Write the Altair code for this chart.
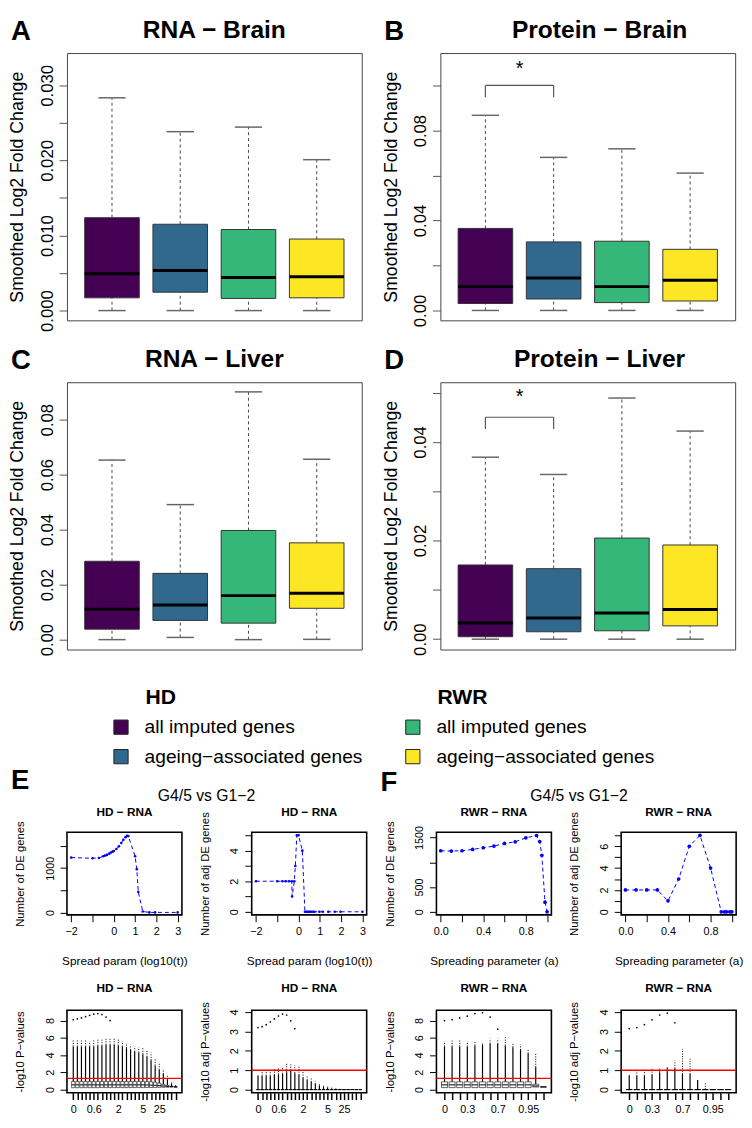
import json
import altair as alt
import pandas as pd

FONT = "Liberation Sans"
COLORS = ["#440154", "#31688E", "#35B779", "#FDE725"]
POS = [1, 2, 3, 4]
YTITLE = "Smoothed Log2 Fold Change"

# ---------------- Panels A-D : box statistics ----------------
A_LOW = [0.0, 0.0, 0.0, 0.0]
A_Q1 = [0.0017, 0.00245, 0.00162, 0.0017]
A_MED = [0.0049, 0.00533, 0.00442, 0.0045]
A_Q3 = [0.01237, 0.0115, 0.0108, 0.00953]
A_HIGH = [0.02834, 0.02383, 0.02444, 0.0201]
A_TICKS = [0, 0.005, 0.01, 0.015, 0.02, 0.025, 0.03]
A_LABELS = ["0.000", "", "0.010", "", "0.020", "", "0.030"]

B_LOW = [0.0, 0.0, 0.0, 0.0]
B_Q1 = [0.0031, 0.0051, 0.0035, 0.0042]
B_MED = [0.0106, 0.0144, 0.0106, 0.0134]
B_Q3 = [0.0365, 0.0305, 0.0308, 0.0272]
B_HIGH = [0.0868, 0.0681, 0.0719, 0.0611]
B_TICKS = [0, 0.02, 0.04, 0.06, 0.08, 0.1]
B_LABELS = ["0.00", "", "0.04", "", "0.08", ""]
B_SIG = [0.0948, 0.1001, 0.1075]   # bracket foot, bracket top, star

C_LOW = [0.0, 0.0008, 0.0, 0.0001]
C_Q1 = [0.0038, 0.0070, 0.0060, 0.0114]
C_MED = [0.0111, 0.0126, 0.0160, 0.0169]
C_Q3 = [0.0285, 0.0241, 0.0397, 0.0352]
C_HIGH = [0.0653, 0.0491, 0.0901, 0.0656]
C_TICKS = [0, 0.02, 0.04, 0.06, 0.08]
C_LABELS = ["0.00", "0.02", "0.04", "0.06", "0.08"]

D_LOW = [0.0, 0.0, 0.0, 0.0]
D_Q1 = [0.0005, 0.0015, 0.0017, 0.0027]
D_MED = [0.0033, 0.0043, 0.0053, 0.0060]
D_Q3 = [0.01505, 0.0143, 0.0205, 0.0191]
D_HIGH = [0.0369, 0.0334, 0.0489, 0.0422]
D_TICKS = [0, 0.01, 0.02, 0.03, 0.04, 0.05]
D_LABELS = ["0.00", "", "0.02", "", "0.04", ""]
D_SIG = [0.0426, 0.0450, 0.0490]

# ---------------- Legend ----------------
LEG_GROUPS = ["HD", "HD", "RWR", "RWR"]
LEG_ROWS = [1, 2, 1, 2]
LEG_LABELS = ["all imputed genes", "ageing\u2212associated genes",
              "all imputed genes", "ageing\u2212associated genes"]
LEG_TITLES = ["HD", "RWR"]

# ---------------- Panel E/F line plots ----------------
E1_X = [-2, -1, -0.7, -0.5, -0.41, -0.32, -0.21, -0.14, -0.06, 0, 0.12, 0.24, 0.35,
        0.45, 0.55, 0.62, 0.68, 1.0, 1.08, 1.15, 1.36, 1.67, 1.94, 3.0]
E1_Y = [1239, 1224, 1231, 1269, 1284, 1299, 1328, 1351, 1373, 1388, 1433, 1493, 1567,
        1642, 1701, 1731, 1724, 1269, 978, 463, 22, 0, 0, 0]
E2_X = [-2, -1, -0.76, -0.6, -0.45, -0.32, -0.3, -0.2, -0.15, -0.08, 0, 0.18, 0.3,
        0.36, 0.42, 0.48, 0.54, 0.6, 0.68, 0.75, 0.98, 1.14, 1.4, 1.7, 1.97, 3.0]
E2_Y = [2, 2, 2, 2, 2, 2, 1, 2, 3, 5, 5, 4, 0, 0, 0, 0, 0, 0, 0, 0, 0, 0, 0, 0, 0, 0]
F1_X = [0, 0.1, 0.2, 0.3, 0.4, 0.5, 0.6, 0.7, 0.8, 0.9, 0.93, 0.95, 0.98, 1.0]
F1_Y = [1233, 1227, 1233, 1260, 1293, 1327, 1380, 1413, 1493, 1540, 1419, 1142, 196, 0]
F2_X = [0, 0.1, 0.2, 0.3, 0.4, 0.5, 0.6, 0.7, 0.8, 0.9, 0.93, 0.95, 0.98, 1.0]
F2_Y = [2, 2, 2, 2, 1, 3, 6, 7, 4, 0, 0, 0, 0, 0]

E_XTICKS = [-2, -1, 0, 1, 2, 3]
E_XLABELS = ["\u22122", "", "0", "1", "2", "3"]
E1_YTICKS = [0, 500, 1000, 1500]
E1_YLABELS = ["0", "", "1000", ""]
E2_YTICKS = [0, 1, 2, 3, 4, 5]
E2_YLABELS = ["0", "", "2", "", "4", ""]
F_XTICKS = [0, 0.2, 0.4, 0.6, 0.8, 1.0]
F_XLABELS = ["0.0", "", "0.4", "", "0.8", ""]
F1_YTICKS = [0, 500, 1000, 1500]
F1_YLABELS = ["0", "500", "", "1500"]
F2_YTICKS = [0, 1, 2, 3, 4, 5, 6, 7]
F2_YLABELS = ["0", "", "2", "", "4", "", "6", ""]

# ---------------- Panel E/F p-value distributions ----------------
HD_CATS = ["0", "0.1", "0.2", "0.3", "0.4", "0.6", "0.7", "0.8", "0.9", "1", "1.5", "2", "2.5",
           "3", "3.5", "4", "4.5", "5", "10", "15", "20", "25", "50", "100", "500", "1000"]
HD_SHOWN = [0, 5, 11, 17, 21]
HD_P_Q1 = [0.22, 0.22, 0.22, 0.22, 0.22, 0.22, 0.22, 0.23, 0.23, 0.23, 0.23, 0.23, 0.23,
           0.23, 0.23, 0.23, 0.23, 0.23, 0.24, 0.24, 0.25, 0.26, 0.27, 0.28, 0.29, 0.30]
HD_P_MED = [0.55, 0.55, 0.55, 0.55, 0.55, 0.55, 0.55, 0.55, 0.55, 0.55, 0.55, 0.55, 0.55,
            0.55, 0.55, 0.55, 0.55, 0.55, 0.54, 0.52, 0.50, 0.46, 0.42, 0.38, 0.34, 0.31]
HD_P_Q3 = [0.95, 0.95, 0.95, 0.95, 0.95, 0.95, 0.95, 0.95, 0.95, 0.95, 0.95, 0.95, 0.95,
           0.95, 0.95, 0.95, 0.95, 0.95, 0.93, 0.90, 0.85, 0.75, 0.62, 0.50, 0.40, 0.32]
HD_P_SOLID = [5.0, 5.0, 5.0, 5.0, 5.0, 5.0, 5.1, 5.1, 5.2, 5.2, 5.2, 5.1, 5.0, 4.8, 4.6, 4.4,
              4.3, 4.1, 3.8, 3.4, 2.8, 2.3, 1.8, 1.2, 0.7, 0.4]
HD_P_DOT = [5.7, 5.7, 5.7, 5.7, 5.6, 5.7, 5.8, 5.8, 5.9, 6.0, 5.9, 5.8, 5.6, 5.4, 5.2, 5.0,
            4.9, 4.8, 4.6, 4.3, 3.6, 3.0, 2.4, 1.7, 1.0, 0.6]
HD_P_EXT = [8.1, 8.2, 8.3, 8.45, 8.6, 8.75, 8.8, 8.7, 8.4, 8.0]
HD_A_ZERO = [0.0] * 26
HD_A_SOLID = [0.72, 0.72, 0.72, 0.72, 0.75, 0.78, 0.82, 0.9, 1.0, 0.85, 0.75, 0.6, 0.5, 0.4,
              0.3, 0.22, 0.15, 0.1, 0.06, 0.04, 0.03, 0.02, 0.02, 0.01, 0.01, 0.01]
HD_A_DOT = [0.75, 1.1, 1.1, 1.05, 1.05, 1.1, 1.2, 1.35, 1.3, 1.25, 1.2, 0.95, 0.75, 0.6,
            0.45, 0.35, 0.25, 0.18, 0.1, 0.06, 0.04, 0.03, 0.02, 0.02, 0.01, 0.01]
HD_A_EXT = [3.2, 3.25, 3.35, 3.5, 3.65, 3.8, 3.9, 3.85, 3.55, 3.15]

RWR_CATS = ["0", "0.1", "0.2", "0.3", "0.4", "0.5", "0.6", "0.7", "0.8", "0.9", "0.93",
            "0.95", "0.98", "1"]
RWR_SHOWN = [0, 3, 7, 11]
RWR_P_Q1 = [0.23, 0.23, 0.23, 0.23, 0.23, 0.23, 0.23, 0.23, 0.23, 0.23, 0.23, 0.23, 0.30, 0.30]
RWR_P_MED = [0.55, 0.55, 0.55, 0.55, 0.55, 0.55, 0.55, 0.55, 0.55, 0.55, 0.55, 0.55, 0.42, 0.31]
RWR_P_Q3 = [0.9, 0.9, 0.9, 0.9, 0.9, 0.9, 0.9, 0.9, 0.9, 0.9, 0.9, 0.9, 0.62, 0.32]
RWR_P_SOLID = [5.0, 5.0, 5.0, 5.0, 5.1, 5.2, 5.3, 5.3, 5.1, 4.9, 4.6, 4.2, 2.6, 0.32]
RWR_P_DOT = [5.6, 5.7, 5.7, 5.6, 5.6, 5.5, 5.9, 5.9, 6.2, 5.4, 5.2, 4.7, 4.2, 0.32]
RWR_P_EXT = [8.0, 8.1, 8.3, 8.5, 8.8, 8.9, 8.4, 7.0]
RWR_A_ZERO = [0.0] * 14
RWR_A_SOLID = [0.7, 0.7, 0.72, 0.75, 0.9, 1.1, 1.1, 0.8, 0.8, 0.5, 0.02, 0.02, 0.01, 0.01]
RWR_A_DOT = [0.75, 1.05, 1.1, 1.05, 1.15, 1.2, 1.5, 2.1, 1.6, 0.5, 0.4, 0.02, 0.01, 0.01]
RWR_A_EXT = [3.15, 3.2, 3.35, 3.6, 3.85, 3.95, 3.45]

P_YTICKS = [0, 2, 4, 6, 8]
P_YLABELS = ["0", "2", "4", "6", "8"]
A_YTICKS = [0, 1, 2, 3, 4]
A_YLABELS = ["0", "1", "2", "3", "4"]
RED_P = 1.301
RED_ADJ = 1.0


def lab_expr(ticks, labels):
    return "%s[indexof(%s, datum.value)]" % (json.dumps(labels, ensure_ascii=False), json.dumps(ticks))


def text_layer(txt, x, y, size, weight="normal", align="left", baseline="alphabetic"):
    return alt.Chart(pd.DataFrame({"t": [txt]})).mark_text(
        align=align, baseline=baseline, font=FONT, fontSize=size,
        fontWeight=weight, color="#000"
    ).encode(x=alt.value(x), y=alt.value(y), text="t:N")


# ---------------- Box panels ----------------
BW, BH = 300, 272


def box_panel(letter, title, low, q1, med, q3, high, ydom, ticks, labels, sig=None, title_dx=0):
    df = pd.DataFrame({"pos": POS, "low": low, "q1": q1, "med": med, "q3": q3,
                       "high": high, "color": COLORS})
    xs = alt.Scale(domain=[0.34, 4.66], nice=False, zero=False)
    ys = alt.Scale(domain=ydom, nice=False, zero=False)
    yax = alt.Axis(values=ticks, labelExpr=lab_expr(ticks, labels), labelAngle=-90,
                   labelAlign="center", labelBaseline="bottom", labelFont=FONT,
                   labelFontSize=17, labelColor="#000", labelPadding=3, labelOverlap=False,
                   labelFlush=False, tickSize=8, tickColor="#555", tickWidth=1, domain=False,
                   grid=False, title=YTITLE, titleFont=FONT, titleFontSize=18,
                   titleFontWeight="normal", titleColor="#000", titlePadding=13,
                   minExtent=28, maxExtent=28)

    def X(f):
        return alt.X(f + ":Q", scale=xs, axis=None)

    def Y(f):
        return alt.Y(f + ":Q", scale=ys, axis=yax)

    base = alt.Chart(df).transform_calculate(
        xl="datum.pos - 0.4", xr="datum.pos + 0.4", cl="datum.pos - 0.2", cr="datum.pos + 0.2")
    layers = [
        base.mark_rule(color="#444", strokeWidth=1, strokeDash=[3, 3]).encode(x=X("pos"), y=Y("q3"), y2="high"),
        base.mark_rule(color="#444", strokeWidth=1, strokeDash=[3, 3]).encode(x=X("pos"), y=Y("low"), y2="q1"),
        base.mark_rule(color="#666", strokeWidth=1.5).encode(x=X("cl"), x2="cr", y=Y("high")),
        base.mark_rule(color="#666", strokeWidth=1.5).encode(x=X("cl"), x2="cr", y=Y("low")),
        base.mark_rect(stroke="#333", strokeWidth=1).encode(
            x=X("xl"), x2="xr", y=Y("q1"), y2="q3", color=alt.Color("color:N", scale=None)),
        base.mark_rule(color="#000", strokeWidth=3).encode(x=X("xl"), x2="xr", y=Y("med")),
    ]
    if sig is not None:
        sdf = pd.DataFrame({"x1": [1], "x2": [2], "xm": [1.5], "lo": [sig[0]], "hi": [sig[1]],
                            "star": [sig[2]], "s": ["*"]})
        sb = alt.Chart(sdf)
        layers += [
            sb.mark_rule(color="#555", strokeWidth=1.2).encode(x=X("x1"), x2="x2", y=Y("hi")),
            sb.mark_rule(color="#555", strokeWidth=1.2).encode(x=X("x1"), y=Y("lo"), y2="hi"),
            sb.mark_rule(color="#555", strokeWidth=1.2).encode(x=X("x2"), y=Y("lo"), y2="hi"),
            sb.mark_text(font=FONT, fontSize=20, baseline="middle", color="#000").encode(
                x=X("xm"), y=Y("star"), text="s:N"),
        ]
    layers += [text_layer(letter, -57, -35, 28, "bold", baseline="top"),
               text_layer(title, BW / 2 + title_dx, -15.5, 25, "bold", "center")]
    return alt.layer(*layers).properties(width=BW, height=BH)


pA = box_panel("A", "RNA \u2212 Brain", A_LOW, A_Q1, A_MED, A_Q3, A_HIGH, [-0.0013, 0.0343], A_TICKS, A_LABELS)
pB = box_panel("B", "Protein \u2212 Brain", B_LOW, B_Q1, B_MED, B_Q3, B_HIGH, [-0.0044, 0.1145], B_TICKS, B_LABELS, sig=B_SIG, title_dx=12)
pC = box_panel("C", "RNA \u2212 Liver", C_LOW, C_Q1, C_MED, C_Q3, C_HIGH, [-0.0036, 0.0936], C_TICKS, C_LABELS)
pD = box_panel("D", "Protein \u2212 Liver", D_LOW, D_Q1, D_MED, D_Q3, D_HIGH, [-0.0021, 0.0521], D_TICKS, D_LABELS, sig=D_SIG, title_dx=12)

gridAD = alt.concat(pA, pB, pC, pD, columns=2, spacing={"row": 63, "column": 80}, bounds="flush")

# ---------------- Legend ----------------
leg_df = pd.DataFrame({"group": LEG_GROUPS, "row": LEG_ROWS, "label": LEG_LABELS, "color": COLORS})
hdr_df = pd.DataFrame({"group": LEG_TITLES, "row": [0, 0], "label": LEG_TITLES})
lx = alt.X("group:N", scale=alt.Scale(type="point", domain=LEG_TITLES, range=[55, 352], padding=0), axis=None)
ly = alt.Y("row:O", scale=alt.Scale(type="point", domain=[0, 1, 2], range=[41, 101], padding=0), axis=None)
legend = alt.layer(
    alt.Chart(leg_df).mark_square(size=210, stroke="#222", strokeWidth=1, opacity=1).encode(
        x=lx, y=ly, color=alt.Color("color:N", scale=None)),
    alt.Chart(leg_df).mark_text(align="left", baseline="middle", dx=24, font=FONT, fontSize=19.5, color="#000").encode(
        x=lx, y=ly, text="label:N"),
    alt.Chart(hdr_df).mark_text(align="left", baseline="middle", dx=25, font=FONT, fontSize=21.5, fontWeight="bold", color="#000").encode(
        x=lx, y=ly, text="label:N"),
).properties(width=660, height=101, view=alt.ViewBackground(stroke="transparent"))

# ---------------- E/F small panels ----------------
SW, SH = 117, 84
SVIEW = alt.ViewBackground(stroke="#000", strokeWidth=1.6)


def sm_axis_x(ticks, labels, title, tick_w=1):
    kw = dict(values=ticks, labelExpr=lab_expr(ticks, labels), labelFont=FONT, labelFontSize=11,
              labelColor="#000", labelPadding=4, labelOverlap=False, labelFlush=False, labelAngle=0,
              tickSize=7, tickColor="#000", tickWidth=tick_w, domain=False, grid=False,
              minExtent=22, maxExtent=22)
    if title:
        kw.update(title=title, titleFont=FONT, titleFontSize=12, titleFontWeight="normal",
                  titleColor="#000", titlePadding=20)
    else:
        kw.update(title="")
    return alt.Axis(**kw)


def sm_axis_y(ticks, labels, title):
    return alt.Axis(values=ticks, labelExpr=lab_expr(ticks, labels), labelFont=FONT, labelFontSize=11,
                    labelColor="#000", labelPadding=5, labelOverlap=False, labelFlush=False,
                    labelAngle=-90, labelAlign="center", labelBaseline="bottom",
                    tickSize=7, tickColor="#000", tickWidth=1, domain=False, grid=False,
                    title=title, titleFont=FONT, titleFontSize=11.5, titleFontWeight="normal",
                    titleColor="#000", titlePadding=19, minExtent=23, maxExtent=23)


def line_panel(xv, yv, xdom, ydom, xt, xl, yt, yl, xtitle, ytitle, sub, psize, extra=()):
    df = pd.DataFrame({"x": xv, "y": yv})
    base = alt.Chart(df).encode(
        x=alt.X("x:Q", scale=alt.Scale(domain=xdom, nice=False, zero=False), axis=sm_axis_x(xt, xl, xtitle)),
        y=alt.Y("y:Q", scale=alt.Scale(domain=ydom, nice=False, zero=False), axis=sm_axis_y(yt, yl, ytitle)))
    layers = [base.mark_line(color="#0000FF", strokeWidth=1, strokeDash=[4, 3]),
              base.mark_circle(color="#0000FF", size=psize, opacity=1),
              text_layer(sub, SW / 2, -17, 12, "bold", "center")] + list(extra)
    return alt.layer(*layers).properties(width=SW, height=SH, view=SVIEW)


def dist_panel(cats, shown, q1, med, q3, solid, dot, ext, ydom, yt, yl, red, ytitle, sub):
    n = len(cats)
    idx = list(range(1, n + 1))
    df = pd.DataFrame({"i": idx, "q1": q1, "med": med, "q3": q3, "solid": solid, "dot": dot})
    edf = pd.DataFrame({"i": idx[:len(ext)], "v": ext})
    labels = [c if k in shown else "" for k, c in enumerate(cats)]
    xs = alt.Scale(domain=[0.5 - 0.04 * n, n + 0.5 + 0.04 * n], nice=False, zero=False)
    ys = alt.Scale(domain=ydom, nice=False, zero=False)
    xax = sm_axis_x(idx, labels, None, tick_w=1.5)
    yax = sm_axis_y(yt, yl, ytitle)

    def X(f):
        return alt.X(f + ":Q", scale=xs, axis=xax)

    def Y(f):
        return alt.Y(f + ":Q", scale=ys, axis=yax)

    base = alt.Chart(df).transform_calculate(xl="datum.i - 0.4", xr="datum.i + 0.4")
    layers = [
        base.mark_rule(color="#000", strokeWidth=1.2).encode(x=X("i"), y=Y("q3"), y2="solid"),
        base.mark_rule(color="#000", strokeWidth=1, strokeDash=[1, 1.5]).encode(x=X("i"), y=Y("solid"), y2="dot"),
        base.mark_rect(fill="#fff", stroke="#000", strokeWidth=0.6).encode(x=X("xl"), x2="xr", y=Y("q1"), y2="q3"),
        base.mark_rule(color="#000", strokeWidth=1).encode(x=X("xl"), x2="xr", y=Y("med")),
        alt.Chart(edf).mark_circle(color="#000", size=3, opacity=1).encode(x=X("i"), y=Y("v")),
        alt.Chart(pd.DataFrame({"r": [red]})).mark_rule(color="#FF0000", strokeWidth=1.5).encode(y=Y("r")),
        text_layer(sub, SW / 2, -18, 12, "bold", "center"),
    ]
    return alt.layer(*layers).properties(width=SW, height=SH, view=SVIEW)


GTITLE = "G4/5 vs G1\u22122"
E1 = line_panel(E1_X, E1_Y, [-2.2, 3.2], [-55, 1810], E_XTICKS, E_XLABELS, E1_YTICKS, E1_YLABELS,
                "Spread param (log10(t))", "Number of DE genes", "HD \u2212 RNA", 7,
                extra=[text_layer("E", -57, -66, 28, "bold", baseline="top"),
                       text_layer(GTITLE, 142, -32, 16, "normal", "center")])
E2 = line_panel(E2_X, E2_Y, [-2.2, 3.2], [-0.2, 5.2], E_XTICKS, E_XLABELS, E2_YTICKS, E2_YLABELS,
                "Spread param (log10(t))", "Number of adj DE genes", "HD \u2212 RNA", 7)
F1 = line_panel(F1_X, F1_Y, [-0.04, 1.04], [-60, 1605], F_XTICKS, F_XLABELS, F1_YTICKS, F1_YLABELS,
                "Spreading parameter (a)", "Number of DE genes", "RWR \u2212 RNA", 14,
                extra=[text_layer("F", -57, -64, 28, "bold", baseline="top"),
                       text_layer(GTITLE, 145, -32, 16, "normal", "center")])
F2 = line_panel(F2_X, F2_Y, [-0.04, 1.04], [-0.28, 7.28], F_XTICKS, F_XLABELS, F2_YTICKS, F2_YLABELS,
                "Spreading parameter (a)", "Number of adj DE genes", "RWR \u2212 RNA", 14)

E3 = dist_panel(HD_CATS, HD_SHOWN, HD_P_Q1, HD_P_MED, HD_P_Q3, HD_P_SOLID, HD_P_DOT, HD_P_EXT,
                [-0.36, 9.2], P_YTICKS, P_YLABELS, RED_P, "-log10 P\u2212values", "HD \u2212 RNA")
E4 = dist_panel(HD_CATS, HD_SHOWN, HD_A_ZERO, HD_A_ZERO, HD_A_ZERO, HD_A_SOLID, HD_A_DOT, HD_A_EXT,
                [-0.16, 4.1], A_YTICKS, A_YLABELS, RED_ADJ, "-log10 adj P\u2212values", "HD \u2212 RNA")
F3 = dist_panel(RWR_CATS, RWR_SHOWN, RWR_P_Q1, RWR_P_MED, RWR_P_Q3, RWR_P_SOLID, RWR_P_DOT, RWR_P_EXT,
                [-0.36, 9.2], P_YTICKS, P_YLABELS, RED_P, "-log10 P\u2212values", "RWR \u2212 RNA")
F4 = dist_panel(RWR_CATS, RWR_SHOWN, RWR_A_ZERO, RWR_A_ZERO, RWR_A_ZERO, RWR_A_SOLID, RWR_A_DOT, RWR_A_EXT,
                [-0.16, 4.1], A_YTICKS, A_YLABELS, RED_ADJ, "-log10 adj P\u2212values", "RWR \u2212 RNA")

gridEF = alt.concat(E1, E2, F1, F2, E3, E4, F3, F4, columns=4,
                    spacing={"row": 97, "column": 71}, bounds="flush")

chart = alt.vconcat(gridAD, legend, gridEF, spacing=0).properties(padding=0).configure(
    font=FONT).configure_view(stroke="#444", strokeWidth=1)

chart.save("out.html", embed_options={"renderer": "svg", "actions": False})
